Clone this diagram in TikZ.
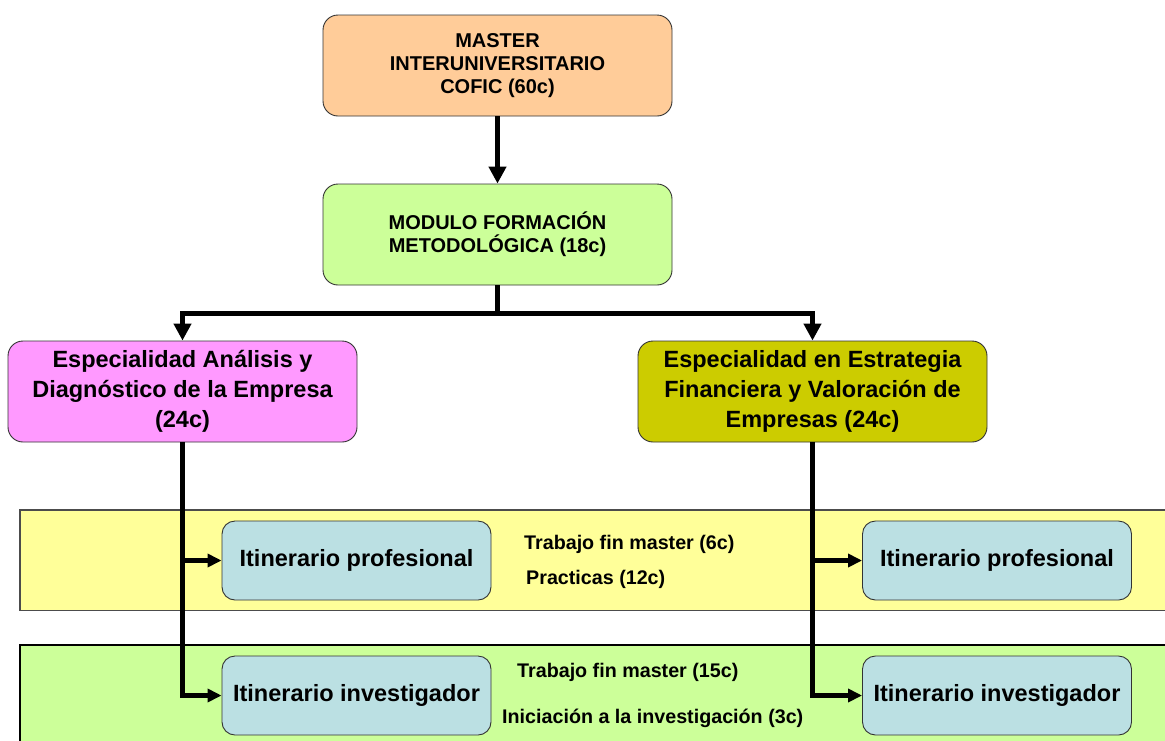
\documentclass[tikz,border=0pt]{standalone}
\usepackage{fontspec}
\setmainfont{Liberation Sans}
\usetikzlibrary{arrows.meta}
\definecolor{peach}{HTML}{FFCC99}
\definecolor{lgreen}{HTML}{CCFF99}
\definecolor{pinkc}{HTML}{FF99FF}
\definecolor{olive}{HTML}{CCCC00}
\definecolor{lblue}{HTML}{BBE0E3}
\definecolor{lyellow}{HTML}{FFFF99}
\tikzset{
  topbox/.style={draw=black!80, line width=0.9pt, rounded corners=15pt, inner sep=0pt,
    minimum width=349pt, minimum height=101pt, align=center,
    font=\fontsize{20}{23}\selectfont\bfseries},
  specbox/.style={draw=black!80, line width=0.9pt, rounded corners=15pt, inner sep=0pt,
    minimum width=349pt, minimum height=101pt, align=center,
    font=\fontsize{23.5}{30}\selectfont\bfseries},
  itbox/.style={draw=black!80, line width=0.9pt, fill=lblue, rounded corners=13pt, inner sep=0pt,
    minimum width=269pt, minimum height=79pt, align=center,
    font=\fontsize{23.5}{28}\selectfont\bfseries},
  smalltxt/.style={anchor=west, inner sep=0pt, font=\fontsize{19.7}{23}\selectfont\bfseries},
  bigconn/.style={line width=5.5pt, line join=miter, -{Triangle[width=17pt,length=17pt]}},
  smallconn/.style={line width=5pt, line join=miter, -{Triangle[width=13pt,length=14pt]}},
}
\begin{document}
\begin{tikzpicture}[x=1pt,y=-1pt]
\useasboundingbox (0,0) rectangle (1165,740);
\clip (0,0) rectangle (1165,740);
% bands
\draw[fill=lyellow, draw=black!70, line width=1.2pt] (20,510) rectangle (1180,610.5);
\draw[fill=lgreen, draw=black, line width=1.2pt] (20,645) rectangle (1180,760);
% boxes
\node[topbox, fill=peach] (master) at (497.5,65.5) {MASTER\\INTERUNIVERSITARIO\\COFIC (60c)};
\node[topbox, fill=lgreen] (modulo) at (497.5,234.5) {MODULO FORMACIÓN\\METODOLÓGICA (18c)};
\node[specbox, fill=pinkc] (pink) at (182.5,391.5) {Especialidad Análisis y\\Diagnóstico de la Empresa\\(24c)};
\node[specbox, fill=olive] (olive) at (812.5,391.5) {Especialidad en Estrategia\\Financiera y Valoración de\\Empresas (24c)};
\node[itbox] (ipl) at (356.5,560.5) {Itinerario profesional};
\node[itbox] (iil) at (356.5,695.5) {Itinerario investigador};
\node[itbox] (ipr) at (997,560.5) {Itinerario profesional};
\node[itbox] (iir) at (997,695.5) {Itinerario investigador};
% texts
\node[smalltxt] (t1) at (524,544) {Trabajo fin master (6c)};
\node[smalltxt] (t2) at (526,579) {Practicas (12c)};
\node[smalltxt] (t3) at (517,672) {Trabajo fin master (15c)};
\node[smalltxt] (t4) at (502,718) {Iniciación a la investigación (3c)};
% connectors
\draw[bigconn] (master.south) -- (modulo.north);
\coordinate (split) at (497.5,313.5);
\draw[line width=5.5pt] (modulo.south) -- (split);
\draw[bigconn] (split) -| (pink.north);
\draw[bigconn] (split) -| (olive.north);
\draw[smallconn] (pink.south) -- (pink.south |- iil.west) -- (iil.west);
\draw[smallconn] (pink.south |- ipl.west) -- (ipl.west);
\draw[smallconn] (olive.south) -- (olive.south |- iir.west) -- (iir.west);
\draw[smallconn] (olive.south |- ipr.west) -- (ipr.west);
\end{tikzpicture}
\end{document}
